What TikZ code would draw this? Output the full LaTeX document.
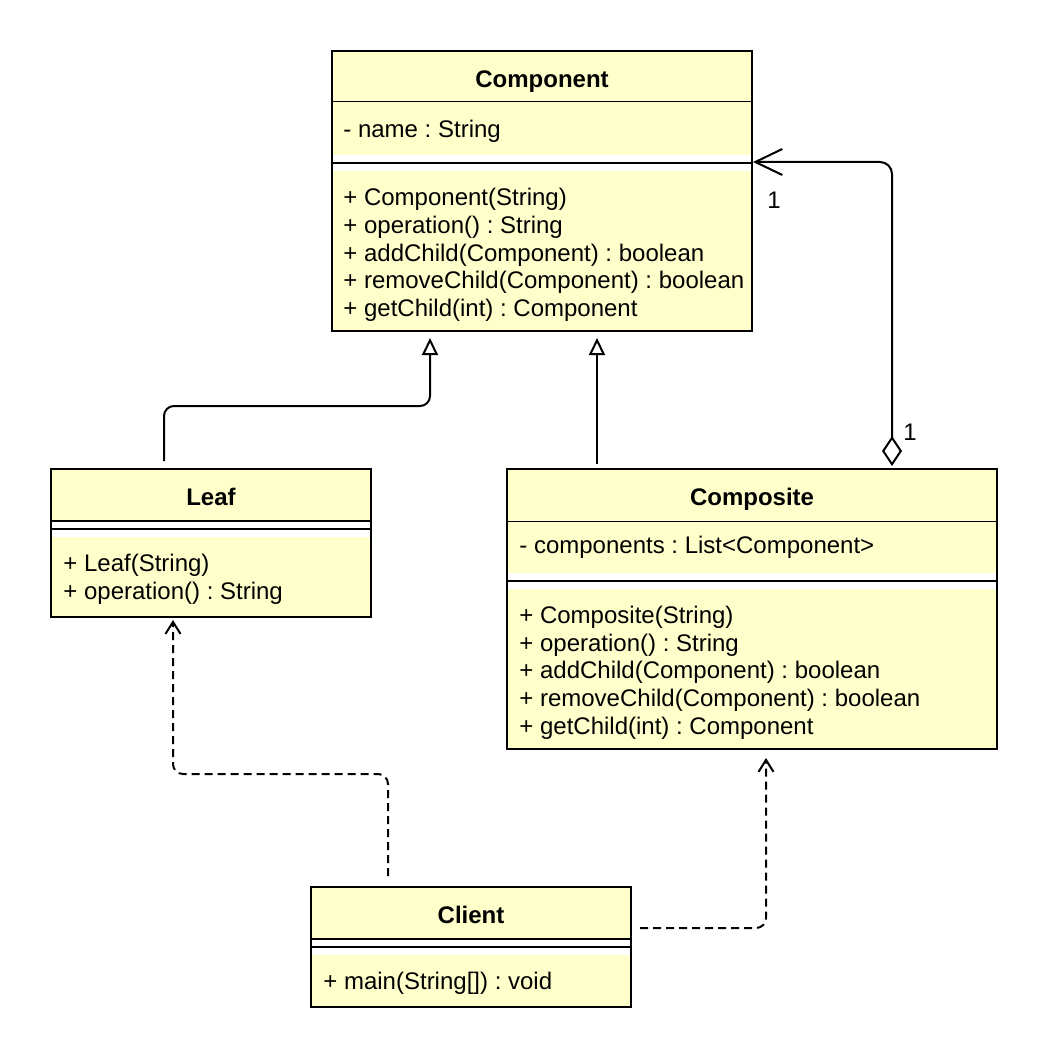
\documentclass[tikz,border=0pt]{standalone}
\usepackage{fontspec}
\setmainfont{Liberation Sans}
\usetikzlibrary{arrows.meta,calc}
\definecolor{classfill}{HTML}{FFFFCC}
\frenchspacing
\begin{document}
\begin{tikzpicture}[x=0.5pt,y=-0.5pt,
  every node/.style={inner sep=0pt, font=\fontsize{12pt}{14pt}\selectfont},
  boxframe/.style={draw, line width=1pt, inner sep=0pt},
  thinrule/.style={line width=0.5pt},
  thickrule/.style={line width=1pt},
  title/.style={anchor=base, font=\fontsize{12pt}{14pt}\selectfont\bfseries},
  member/.style={anchor=base west},
  conn/.style={line width=1pt, rounded corners=5pt},
  gen/.style={conn, arrows={-Triangle[open,length=8.5pt,width=8pt]}},
  dep/.style={conn, dash pattern=on 4pt off 2.5pt, arrows={-Straight Barb[length=6pt,width=7.5pt]}},
  agg/.style={conn, rounded corners=6pt, arrows={Diamond[open,length=15pt,width=10pt]-Straight Barb[length=13.5pt,width=13pt]}},
]
\useasboundingbox (0,0) rectangle (1048,1064);

% ---- Component ----
\fill[classfill] (332,51) rectangle (752,155);
\fill[white] (332,155) rectangle (752,171);
\fill[classfill] (332,171) rectangle (752,331);
\draw[thinrule] (332,102) -- (752,102);
\draw[thickrule] (332,163) -- (752,163);
\node[boxframe, minimum width=210pt, minimum height=140pt] (component) at (542,191) {};
\node[title] (component-name) at (542,88) {Component};
\node[member] (component-a1) at (343,138) {- name : String};
\node[member] (component-m1) at (343,205.5) {+ Component(String)};
\node[member] (component-m2) at (343,233.3) {+ operation() : String};
\node[member] (component-m3) at (343,261.1) {+ addChild(Component) : boolean};
\node[member] (component-m4) at (343,288.9) {+ removeChild(Component) : boolean};
\node[member] (component-m5) at (343,316.7) {+ getChild(int) : Component};

% ---- Leaf ----
\fill[classfill] (51,469) rectangle (371,521);
\fill[white] (51,521) rectangle (371,537);
\fill[classfill] (51,537) rectangle (371,617);
\draw[thickrule] (51,521) -- (371,521);
\draw[thickrule] (51,529) -- (371,529);
\node[boxframe, minimum width=160pt, minimum height=74pt] (leaf) at (211,543) {};
\node[title] (leaf-name) at (211,505) {Leaf};
\node[member] (leaf-m1) at (63,571.5) {+ Leaf(String)};
\node[member] (leaf-m2) at (63,599.3) {+ operation() : String};

% ---- Composite ----
\fill[classfill] (507,469) rectangle (997,573);
\fill[white] (507,573) rectangle (997,589);
\fill[classfill] (507,589) rectangle (997,749);
\draw[thinrule] (507,521) -- (997,521);
\draw[thickrule] (507,581) -- (997,581);
\node[boxframe, minimum width=245pt, minimum height=140pt] (composite) at (752,609) {};
\node[title] (composite-name) at (752,505) {Composite};
\node[member] (composite-a1) at (519,553) {- components : List<Component>};
\node[member] (composite-m1) at (519,623.3) {+ Composite(String)};
\node[member] (composite-m2) at (519,651.1) {+ operation() : String};
\node[member] (composite-m3) at (519,678.9) {+ addChild(Component) : boolean};
\node[member] (composite-m4) at (519,706.7) {+ removeChild(Component) : boolean};
\node[member] (composite-m5) at (519,734.5) {+ getChild(int) : Component};

% ---- Client ----
\fill[classfill] (311,887) rectangle (631,939);
\fill[white] (311,939) rectangle (631,955);
\fill[classfill] (311,955) rectangle (631,1007);
\draw[thickrule] (311,939) -- (631,939);
\draw[thickrule] (311,947) -- (631,947);
\node[boxframe, minimum width=160pt, minimum height=60pt] (client) at (471,947) {};
\node[title] (client-name) at (471,923) {Client};
\node[member] (client-m1) at (323,989) {+ main(String[]) : void};

% ---- Relations ----
% generalizations
\draw[gen] ($(leaf.north west)+(114,-7)$) -- ++(0,-55) -| ($(component.south west)+(99,6)$);
\draw[gen] ($(composite.north west)+(91,-4)$) -- ($(component.south west)+(266,6)$);
% aggregation Composite -> Component
\draw[agg] ($(composite.north west)+(386,-2)$) |- ($(component.north east)+(0,112)$);
\node (mult-component) at (774,200) {1};
\node (mult-composite) at (910,432) {1};
% dependencies of Client
\draw[dep] ($(client.north west)+(78,-10)$) -- ++(0,-102) -| ($(leaf.south west)+(123,2)$);
\draw[dep] ($(client.north east)+(8,42)$) -| ($(composite.south west)+(260,8)$);
\end{tikzpicture}
\end{document}
